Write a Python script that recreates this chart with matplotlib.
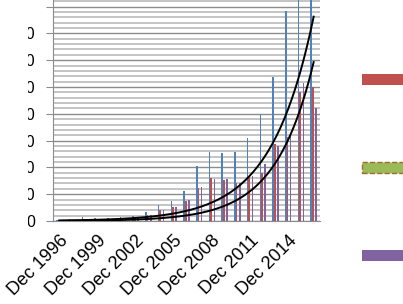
import numpy as np
import matplotlib.pyplot as plt
from matplotlib.patches import Rectangle

# Data (one bar group per December, 1996..2016)

years = list(range(1996, 2017))
blue_vals = [3, 6, 15, 10, 10, 15, 19, 32, 60, 76, 112, 206, 256, 252, 259, 308, 398, 536, 784, 900, 950]
red_vals = [2, 4, 8, 6, 6, 8, 10, 22, 41, 53, 75, 124, 162, 152, 143, 165, 179, 287, 313, 480, 500]
purple_vals = [2, 4, 8, 6, 6, 8, 10, 22, 40, 52, 78, 128, 158, 157, 140, 169, 212, 280, 330, 515, 421]
green_vals = [0] * 21

# exponential trendlines (a * exp(b * i))
trend_upper = (1.89, 0.30)
trend_lower = (0.73, 0.335)

ytick_vals = [0, 100, 200, 300, 400, 500, 600, 700, 800]
ytick_text = ["0", "100", "200", "300", "400", "500", "600", "700", ""]

c_blue = "#4f81bd"
c_red = "#c0504d"
c_green = "#9bbb59"
c_purple = "#8064a2"

W, H = 403, 304
fig = plt.figure(figsize=(W / 100, H / 100), dpi=100)
ax = fig.add_axes([53 / W, (H - 221) / H, (320 - 53) / W, 221 / H])

x = np.arange(len(years))
bw = 0.125
ax.bar(x - 1.5 * bw, blue_vals, bw, color=c_blue, zorder=3)
ax.bar(x - 0.5 * bw, red_vals, bw, color=c_red, zorder=3)
ax.bar(x + 0.5 * bw, green_vals, bw, color=c_green, zorder=3)
ax.bar(x + 1.5 * bw, purple_vals, bw, color=c_purple, zorder=3)

xs = np.linspace(0, len(years) - 1, 200)
for a, b in (trend_upper, trend_lower):
    ax.plot(xs, a * np.exp(b * xs), color="black", lw=1.4, zorder=4)

ax.set_xlim(-0.5, len(years) - 0.5)
ax.set_ylim(0, 221 / 26.8 * 100)

# gridlines: dark major every 100, light minor every 20
ax.set_yticks(ytick_vals)
ax.set_yticklabels(ytick_text, fontsize=11.5, family="Liberation Sans")
ax.set_yticks(np.arange(0, 821, 20), minor=True)
ax.grid(axis="y", which="minor", color="#c4c4c4", lw=1.4, zorder=0)
ax.grid(axis="y", which="major", color="#8c8c8c", lw=1.0, zorder=1)
ax.tick_params(axis="y", which="major", length=5, color="#8c8c8c", pad=8)
ax.tick_params(axis="y", which="minor", length=0)

ax.set_xticks(x[::3])
ax.set_xticklabels(["Dec %d" % y for y in years[::3]], rotation=45, ha="right",
                   va="top", rotation_mode="anchor", fontsize=13, family="Liberation Sans")
ax.tick_params(axis="x", length=0, pad=8)

for s in ("top", "right"):
    ax.spines[s].set_visible(False)
ax.spines["left"].set_color("#8c8c8c")
ax.spines["bottom"].set_color("#8c8c8c")

# the left part of the value labels is cut off in the source picture
fig.patches.append(Rectangle((0, (H - 228) / H), 28 / W, 228 / H, transform=fig.transFigure,
                             facecolor="white", edgecolor="none", zorder=10))

# legend keys (labels cut off at the right edge)
def key(y0, color, **kw):
    fig.patches.append(Rectangle((362 / W, (H - y0 - 11) / H), 45 / W, 11 / H,
                                 transform=fig.transFigure, facecolor=color, **kw))

key(74, c_red, edgecolor="none")
key(162, c_green, edgecolor="#9c6b30", linestyle="--", lw=1.0)
key(250, c_purple, edgecolor="none")

fig.savefig("out.png", dpi=100)
